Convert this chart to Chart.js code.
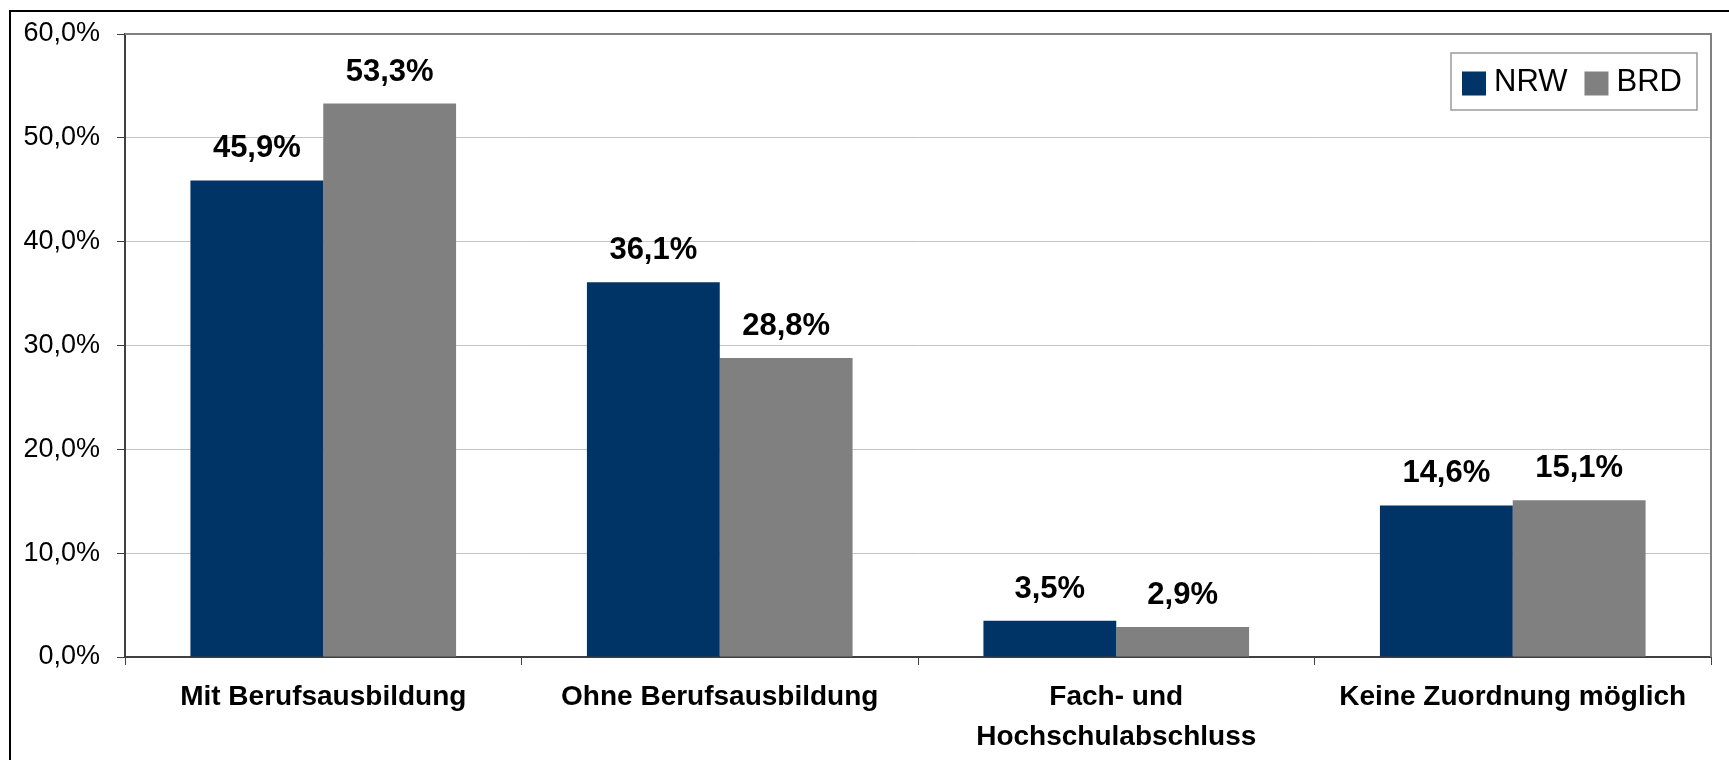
<!DOCTYPE html>
<html lang="de">
<head>
<meta charset="utf-8">
<title>Berufsausbildung NRW / BRD</title>
<script src="https://cdn.jsdelivr.net/npm/chart.js@4"></script>
<style>
  body { margin: 0; background: #fff; overflow: hidden; }
  #wrap { position: relative; width: 1729px; height: 760px; }
  #frame { position: absolute; left: 9px; top: 10px; width: 1740px; height: 780px; border: 2px solid #000; box-sizing: border-box; }
  #box { position: absolute; left: 0; top: 0; width: 1729px; height: 760px; }
</style>
</head>
<body>
<div id="wrap">
  <div id="frame"></div>
  <div id="box"><canvas id="chart"></canvas></div>
</div>
<script>
  const categories = ['Mit Berufsausbildung', 'Ohne Berufsausbildung', ['Fach- und', 'Hochschulabschluss'], 'Keine Zuordnung möglich'];
  const nrwValues = [45.9, 36.1, 3.5, 14.6];
  const brdValues = [53.3, 28.8, 2.9, 15.1];
  const seriesNames = ['NRW', 'BRD'];

  const FONT = '"Liberation Sans", Arial, sans-serif';
  const fmt = v => v.toFixed(1).replace('.', ',') + '%';

  // value labels above the bars
  const valueLabels = {
    id: 'valueLabels',
    afterDatasetsDraw(chart) {
      const ctx = chart.ctx;
      ctx.save();
      ctx.font = 'bold 31px ' + FONT;
      ctx.fillStyle = '#000';
      ctx.textAlign = 'center';
      ctx.textBaseline = 'alphabetic';
      chart.data.datasets.forEach((ds, i) => {
        chart.getDatasetMeta(i).data.forEach((bar, j) => {
          ctx.fillText(fmt(ds.data[j]), bar.x, bar.y - 23);
        });
      });
      ctx.restore();
    }
  };

  // grey top/right edge of the plot area
  const plotFrame = {
    id: 'plotFrame',
    afterDraw(chart) {
      const ctx = chart.ctx, a = chart.chartArea;
      ctx.save();
      ctx.strokeStyle = '#808080';
      ctx.lineWidth = 2;
      ctx.beginPath();
      ctx.moveTo(a.left, a.top);
      ctx.lineTo(a.right, a.top);
      ctx.lineTo(a.right, a.bottom);
      ctx.stroke();
      ctx.restore();
    }
  };

  // legend in a framed box inside the plot
  const boxLegend = {
    id: 'boxLegend',
    afterDraw(chart) {
      const ctx = chart.ctx, a = chart.chartArea;
      const left = a.right - 260, top = a.top + 19, w = 246, h = 57;
      ctx.save();
      ctx.fillStyle = '#fff';
      ctx.fillRect(left, top, w, h);
      ctx.strokeStyle = '#9a9a9a';
      ctx.lineWidth = 1.5;
      ctx.strokeRect(left, top, w, h);
      ctx.font = '31px ' + FONT;
      ctx.textBaseline = 'middle';
      let x = left + 11;
      const cy = top + h / 2 + 1;
      chart.data.datasets.forEach(ds => {
        ctx.fillStyle = ds.backgroundColor;
        ctx.fillRect(x, cy - 11, 24, 24);
        x += 32;
        ctx.fillStyle = '#000';
        ctx.fillText(ds.label, x, cy);
        x += ctx.measureText(ds.label).width + 17;
      });
      ctx.restore();
    }
  };

  new Chart(document.getElementById('chart'), {
    type: 'bar',
    data: {
      labels: categories,
      datasets: [
        { label: seriesNames[0], data: nrwValues, backgroundColor: '#003366' },
        { label: seriesNames[1], data: brdValues, backgroundColor: '#808080' }
      ]
    },
    options: {
      responsive: true,
      maintainAspectRatio: false,
      animation: false,
      layout: { padding: { left: 0, top: 34, right: 18, bottom: 0 } },
      datasets: { bar: { barPercentage: 1, categoryPercentage: 0.67 } },
      plugins: { legend: { display: false }, tooltip: { enabled: false } },
      scales: {
        x: {
          afterFit: s => { s.height = 103; },
          grid: { drawOnChartArea: false, drawTicks: true, tickLength: 8, color: '#404040', offset: true },
          border: { color: '#404040', width: 2 },
          ticks: { color: '#000', font: { family: FONT, size: 28, weight: 'bold', lineHeight: 1.4 }, padding: 13, maxRotation: 0, autoSkip: false }
        },
        y: {
          min: 0,
          max: 60,
          afterFit: s => { s.width = 125; },
          grid: { color: '#c4c4c4', lineWidth: 1, tickLength: 8, tickColor: '#404040' },
          border: { color: '#404040', width: 2 },
          ticks: { stepSize: 10, color: '#000', padding: 17, font: { family: FONT, size: 27 }, callback: v => fmt(v) }
        }
      }
    },
    plugins: [valueLabels, plotFrame, boxLegend]
  });
</script>
</body>
</html>
